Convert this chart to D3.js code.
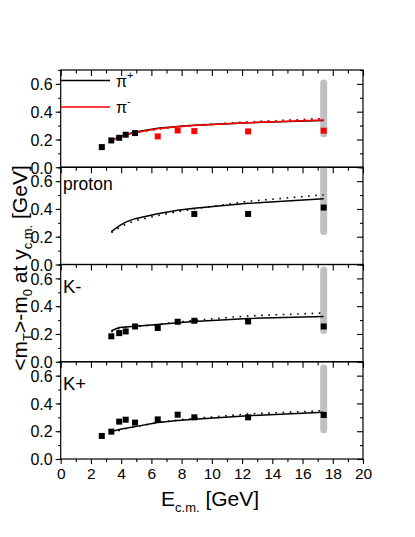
<!DOCTYPE html>
<html><head><meta charset="utf-8">
<script src="https://cdn.jsdelivr.net/npm/d3@7"></script>
<style>body{margin:0;background:#fff}svg{display:block}text{font-family:"Liberation Sans",Arial,sans-serif;fill:#000}</style>
</head><body>
<script>
// ---- data ----
const xTicks = [0,2,4,6,8,10,12,14,16,18,20];
const yTicks = [0.0,0.2,0.4,0.6];
const panelNames = ["pion","proton","K-","K+"];
const panelLabels = ["", "proton", "K-", "K+"];
const modelE = [3.35,3.87,4.3,4.92,6.42,7.74,8.84,12.4,17.4];

// pions
const piPlusE = [2.72,3.35,3.87,4.3,4.92];
const piPlusMt = [0.145,0.193,0.212,0.234,0.246];
const piMinusE = [6.42,7.74,8.84,12.4,17.4];
const piMinusMt = [0.222,0.265,0.26,0.258,0.263];
const piPlusSolid  = [0.195,0.217,0.235,0.253,0.280,0.294,0.302,0.321,0.336];
const piPlusDotted = [0.190,0.210,0.228,0.248,0.276,0.293,0.303,0.326,0.350];
const piMinusSolid  = [0.195,0.215,0.232,0.250,0.277,0.292,0.300,0.320,0.340];
const piMinusDotted = [0.190,0.210,0.228,0.247,0.275,0.292,0.302,0.325,0.350];
// protons
const protonE = [8.84,12.4,17.4];
const protonMt = [0.364,0.364,0.41];
const protonSolid  = [0.236,0.278,0.305,0.330,0.365,0.390,0.405,0.440,0.473];
const protonDotted = [0.230,0.265,0.290,0.315,0.352,0.380,0.400,0.455,0.502];
// K-
const kMinusE = [3.35,3.87,4.3,4.92,6.42,7.74,8.84,12.4,17.4];
const kMinusMt = [0.183,0.206,0.218,0.254,0.243,0.288,0.295,0.29,0.254];
const kMinusSolid  = [0.223,0.247,0.250,0.255,0.268,0.280,0.290,0.312,0.326];
const kMinusDotted = [0.215,0.240,0.245,0.252,0.268,0.285,0.298,0.330,0.351];
// K+
const kPlusE = [2.72,3.35,3.87,4.3,4.92,6.42,7.74,8.84,12.4,17.4];
const kPlusMt = [0.166,0.197,0.269,0.283,0.262,0.285,0.319,0.3,0.3,0.317];
const kPlusSolid  = [0.197,0.212,0.222,0.233,0.262,0.277,0.287,0.312,0.336];
const kPlusDotted = [0.190,0.205,0.218,0.232,0.262,0.280,0.292,0.324,0.348];
// SPS band (grey bar) per panel [low, high]
const bandE = 17.4;
const bandRanges = [[0.242,0.607],[0.238,0.80],[0.225,0.66],[0.21,0.655]];

// ---- layout ----
const W=415,H=537;
const left=60.7,right=363,top0=70,ph=97.25;
const svg=d3.select("body").append("svg").attr("width",W).attr("height",H);
const x=d3.scaleLinear().domain([0,20]).range([left,right]);
const xMinor=d3.range(0,21,1);
const yMinor=d3.range(0,0.71,0.1).map(v=>+v.toFixed(1));

const panels=[
 {points:[{e:piPlusE,v:piPlusMt,c:"#000"},{e:piMinusE,v:piMinusMt,c:"#ff0000"}],
  lines:[{v:piPlusSolid,c:"#000",d:false},{v:piPlusDotted,c:"#000",d:true},{v:piMinusSolid,c:"#ff0000",d:false},{v:piMinusDotted,c:"#ff0000",d:true}]},
 {points:[{e:protonE,v:protonMt,c:"#000"}],
  lines:[{v:protonSolid,c:"#000",d:false},{v:protonDotted,c:"#000",d:true}]},
 {points:[{e:kMinusE,v:kMinusMt,c:"#000"}],
  lines:[{v:kMinusSolid,c:"#000",d:false},{v:kMinusDotted,c:"#000",d:true}]},
 {points:[{e:kPlusE,v:kPlusMt,c:"#000"}],
  lines:[{v:kPlusSolid,c:"#000",d:false},{v:kPlusDotted,c:"#000",d:true}]}
];

panels.forEach((p,i)=>{
  const t=top0+i*ph, b=t+ph;
  const y=d3.scaleLinear().domain([0,0.7]).range([b,t]);
  const g=svg.append("g");
  const cid="clip"+i;
  svg.append("clipPath").attr("id",cid).append("rect").attr("x",left).attr("y",t).attr("width",right-left).attr("height",ph);
  const pg=g.append("g").attr("clip-path",`url(#${cid})`);
  // grey band
  pg.append("line").attr("x1",x(bandE)).attr("x2",x(bandE))
    .attr("y1",y(bandRanges[i][0])).attr("y2",y(bandRanges[i][1]))
    .attr("stroke","#c0c0c0").attr("stroke-width",7).attr("stroke-linecap","round");
  // model lines
  const line=d3.line().x((d,k)=>x(modelE[k])).y(d=>y(d));
  p.lines.forEach(l=>{
    pg.append("path").datum(l.v).attr("d",line).attr("fill","none")
      .attr("stroke",l.c).attr("stroke-width",l.d?1.6:1.5)
      .attr("stroke-dasharray",l.d?"1.6,5.6":null);
  });
  // points
  p.points.forEach(s=>{
    pg.selectAll(null).data(s.v).enter().append("rect")
      .attr("x",(d,k)=>x(s.e[k])-3).attr("y",d=>y(d)-3)
      .attr("width",6).attr("height",6).attr("fill",s.c);
  });
  // frame
  g.append("rect").attr("x",left).attr("y",t).attr("width",right-left).attr("height",ph)
    .attr("fill","none").attr("stroke","#000").attr("stroke-width",1.2);
  // left axis (outward ticks)
  const la=g.append("g").attr("transform",`translate(${left},0)`)
    .call(d3.axisLeft(y).tickValues(yMinor).tickSize(2.5).tickFormat(""));
  la.select(".domain").remove();
  const la2=g.append("g").attr("transform",`translate(${left},0)`)
    .call(d3.axisLeft(y).tickValues(yTicks).tickSize(5).tickPadding(3).tickFormat(d3.format(".1f")));
  la2.select(".domain").remove();
  la2.selectAll("text").attr("font-size",16).attr("dy","0.36em").style("font-family",'"Liberation Sans",Arial,sans-serif');
  // right axis inward ticks
  const ra=g.append("g").attr("transform",`translate(${right},0)`)
    .call(d3.axisRight(y).tickValues(yMinor.filter(v=>!yTicks.includes(v))).tickSize(-3).tickFormat(""));
  ra.select(".domain").remove();
  const ra2=g.append("g").attr("transform",`translate(${right},0)`)
    .call(d3.axisRight(y).tickValues(yTicks).tickSize(-6).tickFormat(""));
  ra2.select(".domain").remove();
  // top axis inward ticks
  const ta=g.append("g").attr("transform",`translate(0,${t})`)
    .call(d3.axisBottom(x).tickValues(xMinor.filter(v=>v%2)).tickSize(3.5).tickFormat(""));
  ta.select(".domain").remove();
  const ta2=g.append("g").attr("transform",`translate(0,${t})`)
    .call(d3.axisBottom(x).tickValues(xTicks).tickSize(6).tickFormat(""));
  ta2.select(".domain").remove();
  g.selectAll(".tick line").attr("stroke","#000").attr("stroke-width",1.1);
  if(i===3){
    const ba=g.append("g").attr("transform",`translate(0,${b})`)
      .call(d3.axisBottom(x).tickValues(xMinor.filter(v=>v%2)).tickSize(3).tickFormat(""));
    ba.select(".domain").remove();
    const ba2=g.append("g").attr("transform",`translate(0,${b})`)
      .call(d3.axisBottom(x).tickValues(xTicks).tickSize(5).tickPadding(4).tickFormat(d3.format("d")));
    ba2.select(".domain").remove();
    ba2.selectAll("text").attr("font-size",15.5).style("font-family",'"Liberation Sans",Arial,sans-serif');
    g.selectAll(".tick line").attr("stroke","#000").attr("stroke-width",1.1);
  }
  // panel label
  if(panelLabels[i]){
    const ly=[0,189.5,293,389.5][i];
    g.append("text").attr("x",63).attr("y",ly).attr("font-size",i===1?17.5:18.5).text(panelLabels[i]);
  }
  // legend for panel 0
  if(i===0){
    const leg=[{c:"#000",yy:80.5,s:"+"},{c:"#ff0000",yy:107,s:"-"}];
    leg.forEach(l=>{
      g.append("line").attr("x1",left).attr("x2",110).attr("y1",l.yy).attr("y2",l.yy)
        .attr("stroke",l.c).attr("stroke-width",1.6);
      const tx=g.append("text").attr("x",116).attr("y",l.yy+6).attr("font-size",16);
      tx.append("tspan").text("π");
      tx.append("tspan").attr("dy",-8).attr("font-size",11).text(l.s);
    });
  }
});

// axis titles
const xt=svg.append("text").attr("x",161).attr("y",506).attr("font-size",21);
xt.append("tspan").text("E");
xt.append("tspan").attr("dy",6).attr("font-size",13).text("c.m.");
xt.append("tspan").attr("dy",-6).text(" [GeV]");

const yt=svg.append("text").attr("transform","translate(27,268) rotate(-90)")
  .attr("text-anchor","middle").attr("font-size",21);
yt.append("tspan").text("<m");
yt.append("tspan").attr("dy",5).attr("font-size",13).text("T");
yt.append("tspan").attr("dy",-5).text(">-m");
yt.append("tspan").attr("dy",5).attr("font-size",13).text("0");
yt.append("tspan").attr("dy",-5).text(" at y");
yt.append("tspan").attr("dy",5).attr("font-size",13).text("c.m.");
yt.append("tspan").attr("dy",-5).text(" [GeV]");
</script>
</body></html>
